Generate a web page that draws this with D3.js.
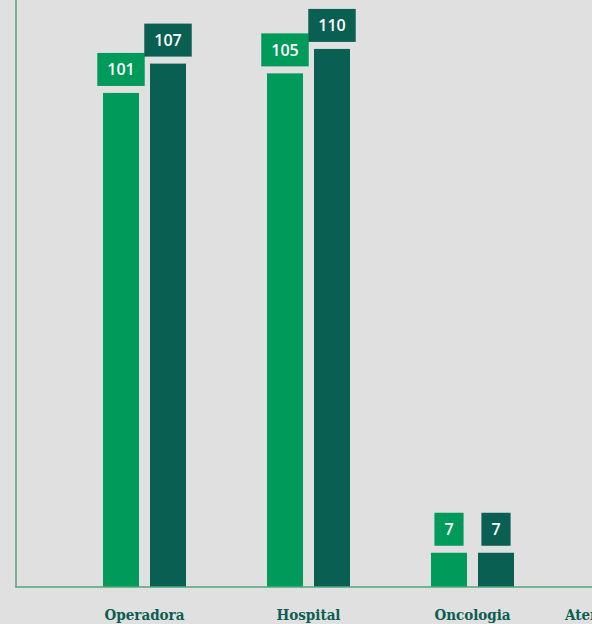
<!DOCTYPE html>
<meta charset="utf-8">
<style>
body { margin: 0; background: #e0e0e0; }
svg { display: block; }
.cat-label { font-family: "DejaVu Serif", serif; font-weight: bold; font-stretch: condensed; fill: #0b5e52; }
.val-label { font-family: "Open Sans", sans-serif; font-weight: 600; fill: #fff; }
</style>
<svg id="chart" width="592" height="624"></svg>
<script src="https://d3js.org/d3.v7.min.js"></script>
<script>
// data (4th category is cut off at the right edge)
var categories = ["Operadora", "Hospital", "Oncologia", "Atenção domiciliar"];
var series = ["2022", "2023"];
var values2022 = [101, 105, 7, null];
var values2023 = [107, 110, 7, null];
var colors = ["#009a5b", "#0a5f53"];

var svg = d3.select("#chart"),
    width = +svg.attr("width"),
    height = +svg.attr("height");

var baseY = 587, axisX = 16;

var x0 = d3.scaleBand()
    .domain(categories)
    .range([62.5, 62.5 + 164 * categories.length])
    .padding(0);

var x1 = d3.scaleBand()
    .domain(series)
    .range([-41.5, 41.5])
    .paddingInner(0.234);

var y = d3.scaleLinear()
    .domain([0, 120])
    .range([baseY, 0]);

var rows = [];
categories.forEach(function(c, i) {
  [values2022, values2023].forEach(function(arr, j) {
    if (arr[i] != null) rows.push({cat: c, s: series[j], v: arr[i], color: colors[j]});
  });
});

var g = svg.append("g");

// bars
g.selectAll("rect.bar")
  .data(rows)
  .enter().append("rect")
    .attr("class", "bar")
    .attr("x", function(d) { return x0(d.cat) + x0.bandwidth() / 2 + x1(d.s); })
    .attr("y", function(d) { return y(d.v); })
    .attr("width", x1.bandwidth())
    .attr("height", function(d) { return baseY - y(d.v); })
    .attr("fill", function(d) { return d.color; });

// value boxes
var lab = g.selectAll("g.lab")
  .data(rows)
  .enter().append("g")
    .attr("class", "lab")
    .attr("transform", function(d) {
      var cx = x0(d.cat) + x0.bandwidth() / 2 + x1(d.s) + x1.bandwidth() / 2;
      return "translate(" + cx + "," + (y(d.v) - 7) + ")";
    });

lab.append("rect").attr("fill", function(d) { return d.color; });
lab.append("text")
    .attr("class", "val-label")
    .attr("text-anchor", "middle")
    .attr("y", -10.5)
    .style("font-size", "16px")
    .text(function(d) { return d.v; });

lab.each(function() {
  var t = d3.select(this).select("text").node().getComputedTextLength();
  var w = Math.max(28, t + 20);
  d3.select(this).select("rect")
    .attr("x", -w / 2).attr("y", -33)
    .attr("width", w).attr("height", 33);
});

// axes lines
svg.append("line")
    .attr("x1", axisX).attr("x2", axisX)
    .attr("y1", 0).attr("y2", baseY)
    .attr("stroke", "#4fa877").attr("stroke-width", 1.5);
svg.append("line")
    .attr("x1", axisX - 0.75).attr("x2", width)
    .attr("y1", baseY).attr("y2", baseY)
    .attr("stroke", "#4fa877").attr("stroke-width", 1.5);

// category labels
svg.selectAll("text.cat-label")
  .data(categories)
  .enter().append("text")
    .attr("class", "cat-label")
    .attr("x", function(d) { return x0(d) + x0.bandwidth() / 2; })
    .attr("y", 620)
    .attr("text-anchor", "middle")
    .style("font-size", "15px")
    .text(function(d) { return d; });
</script>
